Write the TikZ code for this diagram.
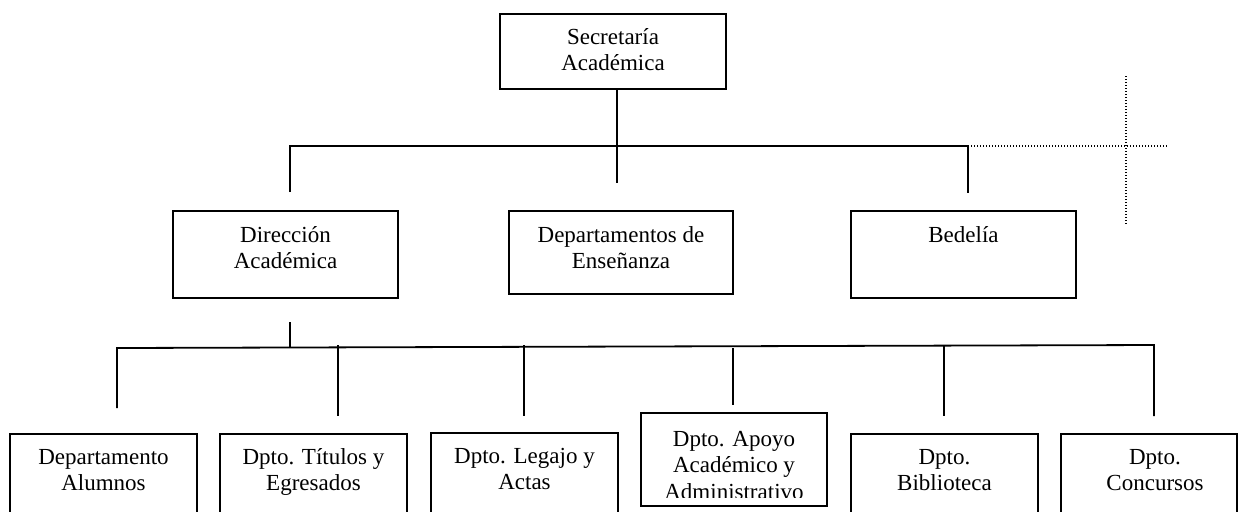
\documentclass[tikz,border=0pt]{standalone}
\usepackage{fontspec}
\setmainfont{Liberation Serif}
\begin{document}
\begin{tikzpicture}[x=0.5pt,y=-0.5pt,
  box/.style={draw, line width=0.9pt, inner sep=0pt},
  lbl/.style={anchor=base, inner sep=0pt, font=\fontsize{11.5}{13.25}\selectfont},
  conn/.style={line width=0.9pt},
  dotline/.style={line width=0.6pt, dash pattern=on 0.6pt off 0.9pt}]
\useasboundingbox (0,0) rectangle (1238,511);
\clip (0,0) rectangle (1238,511);
% top
\node[box, minimum width=113pt, minimum height=37.5pt] (sec) at (613,51.5) {};
\node[lbl] at ([yshift=-15.5pt]sec.north) {\begin{tabular}[t]{@{}c@{}}Secretaría\\Académica\end{tabular}};
% second row
\node[box, minimum width=112.5pt, minimum height=43.5pt] (dir) at (285.5,254.5) {};
\node[lbl] at ([yshift=-16pt]dir.north) {\begin{tabular}[t]{@{}c@{}}Dirección\\Académica\end{tabular}};
\node[box, minimum width=112pt, minimum height=41.5pt] (dep) at (621,252.5) {};
\node[lbl] at ([yshift=-16pt]dep.north) {\begin{tabular}[t]{@{}c@{}}Departamentos de\\Enseñanza\end{tabular}};
\node[box, minimum width=112.5pt, minimum height=43.5pt] (bed) at (963.5,254.5) {};
\node[lbl] at ([yshift=-16pt]bed.north) {Bedelía};
% third row
\node[box, minimum width=93.5pt, minimum height=53pt] (alu) at (103.5,487) {};
\node[lbl] at ([yshift=-15.5pt]alu.north) {\begin{tabular}[t]{@{}c@{}}Departamento\\Alumnos\end{tabular}};
\node[box, minimum width=93.5pt, minimum height=53pt] (tit) at (313.5,487) {};
\node[lbl] at ([yshift=-15.5pt]tit.north) {\begin{tabular}[t]{@{}c@{}}Dpto. Títulos y\\Egresados\end{tabular}};
\node[box, minimum width=93.5pt, minimum height=53.5pt] (leg) at (524.5,486.5) {};
\node[lbl] at ([yshift=-15.5pt]leg.north) {\begin{tabular}[t]{@{}c@{}}Dpto. Legajo y\\Actas\end{tabular}};
\node[box, minimum width=93pt, minimum height=46.5pt] (apo) at (734,459.5) {};
\begin{scope}
\clip (641,413) rectangle (827,497);
\node[lbl] at ([yshift=-17pt]apo.north) {\begin{tabular}[t]{@{}c@{}}Dpto. Apoyo\\Académico y\\Administrativo\end{tabular}};
\end{scope}
\node[box, minimum width=93.5pt, minimum height=53pt] (bib) at (944.5,487) {};
\node[lbl] at ([yshift=-15.5pt]bib.north) {\begin{tabular}[t]{@{}c@{}}Dpto.\\Biblioteca\end{tabular}};
\node[box, minimum width=88pt, minimum height=53pt] (con) at (1149,487) {};
\node[lbl] at ([yshift=-15.5pt,xshift=3pt]con.north) {\begin{tabular}[t]{@{}c@{}}Dpto.\\Concursos\end{tabular}};
% level-1 connectors
\coordinate (b1L) at (290,146);
\coordinate (b1R) at (968,146);
\coordinate (b1E) at (1168,146);
\coordinate (secEnd) at (617,183);
\coordinate (dirTop) at (290,192);
\coordinate (bedTop) at (968,193);
\coordinate (vdT) at (1126,76);
\coordinate (vdB) at (1126,225);
\draw[conn] ([xshift=2pt]sec.south) -- (secEnd);
\draw[conn] (dirTop) -- (b1L) -- (b1R) -- (bedTop);
\draw[dotline] (b1R) -- (b1E);
\draw[dotline] (vdT) -- (vdB);
% level-2 connectors
\coordinate (dirDT) at (290,322);
\coordinate (dirDB) at (290,347);
\coordinate (b2L) at (117,348);
\coordinate (b2R) at (1154,345);
\coordinate (aluT) at (117,408);
\coordinate (titA) at (338,345);
\coordinate (titT) at (338,416);
\coordinate (legA) at (524,345);
\coordinate (legT) at (524,416);
\coordinate (apoA) at (733,348);
\coordinate (apoT) at (733,405);
\coordinate (bibA) at (944,345);
\coordinate (bibT) at (944,416);
\coordinate (conT) at (1154,416);
\draw[conn] (dirDT) -- (dirDB);
\draw[conn] (aluT) -- (b2L) -- (b2R) -- (conT);
\draw[conn] (titA) -- (titT);
\draw[conn] (legA) -- (legT);
\draw[conn] (apoA) -- (apoT);
\draw[conn] (bibA) -- (bibT);
\end{tikzpicture}
\end{document}
